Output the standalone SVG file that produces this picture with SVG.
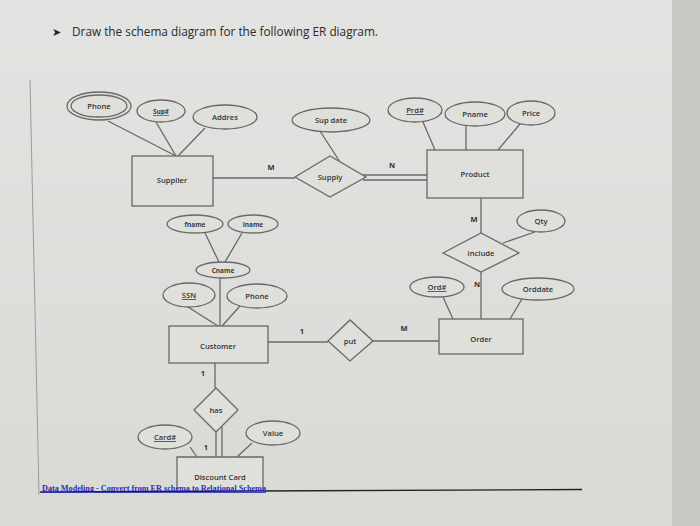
<svg xmlns="http://www.w3.org/2000/svg" width="700" height="526" viewBox="0 0 700 526">
<defs>
<linearGradient id="bg" x1="0" y1="0" x2="0" y2="1">
<stop offset="0" stop-color="#e3e3e1"/>
<stop offset="1" stop-color="#d9d9d6"/>
</linearGradient>
<style>
.e{fill:#dfdfdc;stroke:#686868;stroke-width:1.3}
.r{fill:#dfdfdc;stroke:#686868;stroke-width:1.3}
.l{stroke:#686868;stroke-width:1.3;fill:none}
.t{font-family:"Open Sans","Liberation Sans",sans-serif;font-size:7.6px;font-weight:600;fill:#333;text-anchor:middle}
.c{font-family:"Open Sans","Liberation Sans",sans-serif;font-size:6.5px;font-weight:bold;fill:#3a3a3a;text-anchor:middle}
.u{text-decoration:underline}
</style>
</defs>
<rect width="700" height="526" fill="url(#bg)"/>
<rect x="672" y="0" width="28" height="526" fill="#c9c7c3"/>
<line x1="30" y1="80" x2="39" y2="495" stroke="#9a9a9a" stroke-width="1"/>
<text x="52" y="36" font-family="Liberation Sans,sans-serif" font-size="11" fill="#222">➤</text>
<text x="72" y="36" font-family="'Open Sans','Liberation Sans',sans-serif" font-size="11.8" fill="#2a2a2a">Draw the schema diagram for the following ER diagram.</text>

<g id="connectors">
<line class="l" x1="108" y1="121" x2="176" y2="156"/>
<line class="l" x1="156" y1="122" x2="176" y2="156"/>
<line class="l" x1="205" y1="128" x2="178" y2="156"/>
<line class="l" x1="213" y1="178" x2="295" y2="178"/>
<line class="l" x1="320" y1="131" x2="340" y2="162"/>
<line class="l" x1="363" y1="175" x2="427" y2="175"/>
<line class="l" x1="363" y1="180" x2="427" y2="180"/>
<line class="l" x1="423" y1="122" x2="435" y2="150"/>
<line class="l" x1="466" y1="125" x2="466" y2="150"/>
<line class="l" x1="520" y1="124" x2="498" y2="150"/>
<line class="l" x1="481" y1="198" x2="481" y2="233"/>
<line class="l" x1="503" y1="243" x2="535" y2="232"/>
<line class="l" x1="481" y1="272" x2="481" y2="319"/>
<line class="l" x1="443" y1="297" x2="453" y2="319"/>
<line class="l" x1="522" y1="299" x2="510" y2="319"/>
<line class="l" x1="373" y1="341" x2="439" y2="341"/>
<line class="l" x1="268" y1="342" x2="328" y2="342"/>
<line class="l" x1="205" y1="233" x2="219" y2="262"/>
<line class="l" x1="242" y1="233" x2="225" y2="262"/>
<line class="l" x1="220" y1="278" x2="220" y2="326"/>
<line class="l" x1="188" y1="307" x2="218" y2="326"/>
<line class="l" x1="240" y1="306" x2="222" y2="326"/>
<line class="l" x1="215" y1="363" x2="215" y2="388"/>
<line class="l" x1="216" y1="432" x2="216" y2="457"/>
<line class="l" x1="222" y1="427" x2="222" y2="457"/>
<line class="l" x1="190" y1="447" x2="197" y2="457"/>
<line class="l" x1="252" y1="443" x2="237" y2="457"/>
</g>

<g id="supplier"><rect class="r" x="132" y="156" width="81" height="50"/><text class="t" x="172" y="183">Supplier</text></g>
<g id="phone1"><ellipse class="e" cx="99" cy="106" rx="32" ry="14" stroke-width="2"/><ellipse class="e" cx="99" cy="106" rx="28" ry="11"/><text class="t" x="99" y="109">Phone</text></g>
<g id="supno"><ellipse class="e" cx="161" cy="111" rx="24" ry="11"/><text class="c u" x="161" y="114">Sup#</text></g>
<g id="addres"><ellipse class="e" cx="225" cy="117" rx="32" ry="12"/><text class="t" x="225" y="120">Addres</text></g>

<g id="supdate"><ellipse class="e" cx="331" cy="120" rx="39" ry="12"/><text class="t" x="331" y="123">Sup  date</text></g>
<g id="supply"><polygon class="r" points="295,177 330,156 366,177 330,197"/><text class="t" x="330" y="180">Supply</text></g>

<g id="product"><rect class="r" x="427" y="150" width="96" height="48"/><text class="t" x="475" y="177">Product</text></g>
<g id="prdno"><ellipse class="e" cx="415" cy="110" rx="27" ry="12"/><text class="t u" x="415" y="113">Prd#</text></g>
<g id="pname"><ellipse class="e" cx="475" cy="114" rx="30" ry="12"/><text class="t" x="475" y="117">Pname</text></g>
<g id="price"><ellipse class="e" cx="531" cy="113" rx="24" ry="12"/><text class="t" x="531" y="116">Price</text></g>

<g id="include"><polygon class="r" points="443,253 481,233 519,253 481,272"/><text class="t" x="481" y="256">include</text></g>
<g id="qty"><ellipse class="e" cx="541" cy="221" rx="24" ry="11"/><text class="t" x="541" y="224">Qty</text></g>

<g id="order"><rect class="r" x="439" y="319" width="84" height="35"/><text class="t" x="481" y="342">Order</text></g>
<g id="ordno"><ellipse class="e" cx="437" cy="287" rx="27" ry="10"/><text class="t u" x="437" y="290">Ord#</text></g>
<g id="orddate"><ellipse class="e" cx="538" cy="289" rx="36" ry="11"/><text class="t" x="538" y="292">Orddate</text></g>

<g id="put"><polygon class="r" points="328,341 350,320 373,341 350,361"/><text class="t" x="350" y="344">put</text></g>

<g id="customer"><rect class="r" x="169" y="326" width="99" height="37"/><text class="t" x="218" y="349">Customer</text></g>
<g id="fname"><ellipse class="e" cx="195" cy="224" rx="28" ry="9"/><text class="c" x="195" y="226.5">fname</text></g>
<g id="lname"><ellipse class="e" cx="253" cy="224" rx="25" ry="9"/><text class="c" x="253" y="226.5">lname</text></g>
<g id="cname"><ellipse class="e" cx="223" cy="270" rx="27" ry="8"/><text class="c" x="223" y="272.5">Cname</text></g>
<g id="ssn"><ellipse class="e" cx="189" cy="295" rx="26" ry="12"/><text class="t u" x="189" y="298">SSN</text></g>
<g id="phone2"><ellipse class="e" cx="257" cy="296" rx="30" ry="12"/><text class="t" x="257" y="299">Phone</text></g>

<g id="has"><polygon class="r" points="194,410 216,388 238,410 216,432"/><text class="t" x="216" y="413">has</text></g>
<g id="cardno"><ellipse class="e" cx="165" cy="437" rx="27" ry="12"/><text class="t u" x="165" y="440">Card#</text></g>
<g id="value"><ellipse class="e" cx="273" cy="433" rx="27" ry="12"/><text class="t" x="273" y="436">Value</text></g>
<g id="discount"><path class="r" d="M177,490 V457 H263 V490"/><text class="t" x="220" y="480">Discount Card</text></g>

<g id="labels" font-family="'Open Sans','Liberation Sans',sans-serif" font-size="7.5" font-weight="bold" fill="#333" text-anchor="middle">
<text x="271" y="170">M</text>
<text x="392" y="168">N</text>
<text x="474" y="222">M</text>
<text x="477" y="287">N</text>
<text x="302" y="334">1</text>
<text x="404" y="331">M</text>
<text x="203" y="376">1</text>
<text x="206" y="450">1</text>
</g>

<line x1="40" y1="492" x2="582" y2="489.5" stroke="#222" stroke-width="1.3"/>
<text x="42" y="491" font-family="'Liberation Serif',serif" font-size="8.2" font-weight="bold" fill="#2b2bb8" text-decoration="underline" textLength="224" lengthAdjust="spacingAndGlyphs">Data Modeling - Convert from ER schema to Relational Schema</text>
</svg>
